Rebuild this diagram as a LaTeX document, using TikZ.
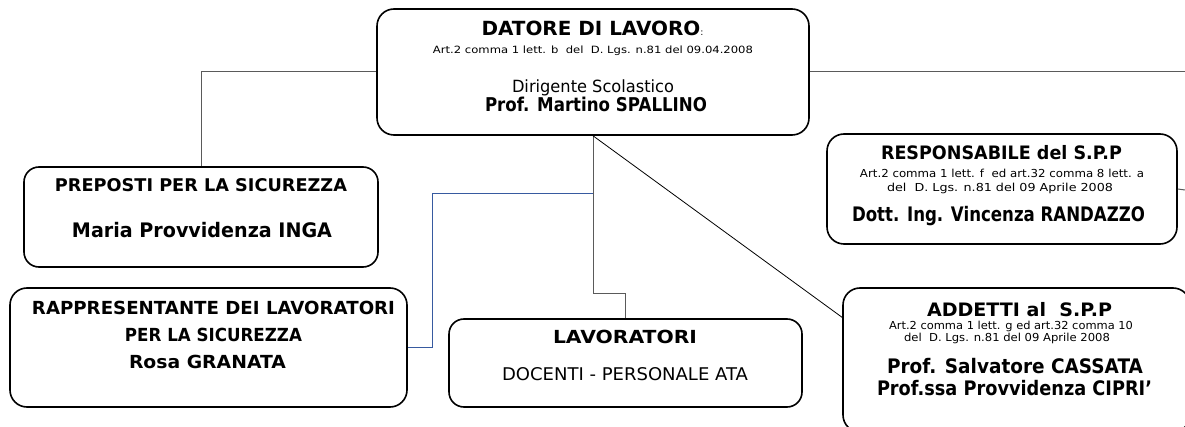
\documentclass[tikz,border=0pt]{standalone}
\usepackage{fontspec}
\usepackage{graphicx}
\setmainfont{DejaVu Sans}
\newcommand{\ftx}[3]{\resizebox{#1pt}{\height}{\fontsize{#2pt}{#2pt}\selectfont #3}}
\definecolor{linegray}{RGB}{90,90,90}
\definecolor{lineblue}{RGB}{55,90,160}
\tikzset{
  box/.style={draw=black, line width=1.6pt, rounded corners=17pt, rectangle, inner sep=0pt},
  txt/.style={anchor=base, inner sep=0pt, outer sep=0pt},
  conn/.style={draw=linegray, line width=1pt},
  bconn/.style={draw=lineblue, line width=0.9pt},
  dconn/.style={draw=black, line width=0.8pt},
}
\begin{document}
\begin{tikzpicture}[x=1pt,y=-1pt]
\clip (0,0) rectangle (1185,427);
\useasboundingbox (0,0) rectangle (1185,427);
% boxes
\node[box, minimum width=432pt, minimum height=126pt] (datore) at (593,72) {};
\node[box, minimum width=354pt, minimum height=100pt, rounded corners=15pt] (preposti) at (201,217) {};
\node[box, minimum width=397pt, minimum height=119pt] (rapp) at (208.5,347.5) {};
\node[box, minimum width=353pt, minimum height=88pt, rounded corners=15pt] (lav) at (625.5,363) {};
\node[box, minimum width=350pt, minimum height=110pt] (resp) at (1002,189) {};
\node[box, minimum width=347pt, minimum height=144pt] (addetti) at (1016.5,360) {};
% connector coordinates
\coordinate (re1) at (1185,72);
\coordinate (re2) at (1185,190);
\coordinate (jl) at (625.5,294);
\coordinate (jb) at (593,193);
\coordinate (jb2) at (432,193);
\coordinate (ad) at (843,318);
% connectors
\draw[conn] (datore.west) -| (preposti.north);
\draw[conn] (datore.east) -- (re1);
\draw[conn] (resp.east) -- (re2);
\draw[conn] (datore.south) |- (jl) -- (lav.north);
\draw[bconn] (jb) -- (jb2) |- (rapp.east);
\draw[dconn] (datore.south) -- (ad);
% datore texts
\node[txt] (d1) at (592.5,35.5) {\ftx{222}{19.5}{\bfseries DATORE DI LAVORO{\mdseries\fontsize{9pt}{9pt}\selectfont :}}};
\node[txt] (d2) at (593,54) {\ftx{320}{10}{Art.2 comma 1 lett. b\ \ del\ \ D. Lgs. n.81 del 09.04.2008}};
\node[txt] (d3) at (593,92.5) {\ftx{162}{16.8}{Dirigente Scolastico}};
\node[txt] (d4) at (596,111.5) {\ftx{222}{19}{\bfseries Prof. Martino SPALLINO}};
% preposti texts
\node[txt] (p1) at (201,191.7) {\ftx{292}{17.5}{\bfseries PREPOSTI PER LA SICUREZZA}};
\node[txt] (p2) at (202,238) {\ftx{260}{20}{\bfseries Maria Provvidenza INGA}};
% rappresentante texts
\node[txt] (r1) at (213.5,315) {\ftx{363}{18}{\bfseries RAPPRESENTANTE DEI LAVORATORI}};
\node[txt] (r2) at (213.5,341.7) {\ftx{177}{18}{\bfseries PER LA SICUREZZA}};
\node[txt] (r3) at (207.5,368.3) {\ftx{157}{18}{\bfseries Rosa GRANATA}};
% lavoratori texts
\node[txt] (l1) at (625,343.3) {\ftx{144}{18}{\bfseries LAVORATORI}};
\node[txt] (l2) at (625,380) {\ftx{246}{17.5}{DOCENTI - PERSONALE ATA}};
% responsabile texts
\node[txt] (s1) at (1001.5,160) {\ftx{241}{18.5}{\bfseries RESPONSABILE del S.P.P}};
\node[txt] (s2) at (1002,178) {\ftx{284}{11}{Art.2 comma 1 lett. f\ \ ed art.32 comma 8 lett. a}};
\node[txt] (s3) at (1000,191.7) {\ftx{226}{11}{del\ \ D. Lgs. n.81 del 09 Aprile 2008}};
\node[txt] (s4) at (998.5,221.7) {\ftx{293}{20}{\bfseries Dott. Ing. Vincenza RANDAZZO}};
% addetti texts
\node[txt] (a1) at (1019.5,316.7) {\ftx{185}{18.5}{\bfseries ADDETTI al\ \ S.P.P}};
\node[txt] (a2) at (1011,330) {\ftx{244}{11}{Art.2 comma 1 lett. g ed art.32 comma 10}};
\node[txt] (a3) at (1007,341.7) {\ftx{206}{11}{del\ \ D. Lgs. n.81 del 09 Aprile 2008}};
\node[txt] (a4) at (1015,373.3) {\ftx{256}{20}{\bfseries Prof. Salvatore CASSATA}};
\node[txt] (a5) at (1014.5,395) {\ftx{275}{20}{\bfseries Prof.ssa Provvidenza CIPRI’}};
\end{tikzpicture}
\end{document}
